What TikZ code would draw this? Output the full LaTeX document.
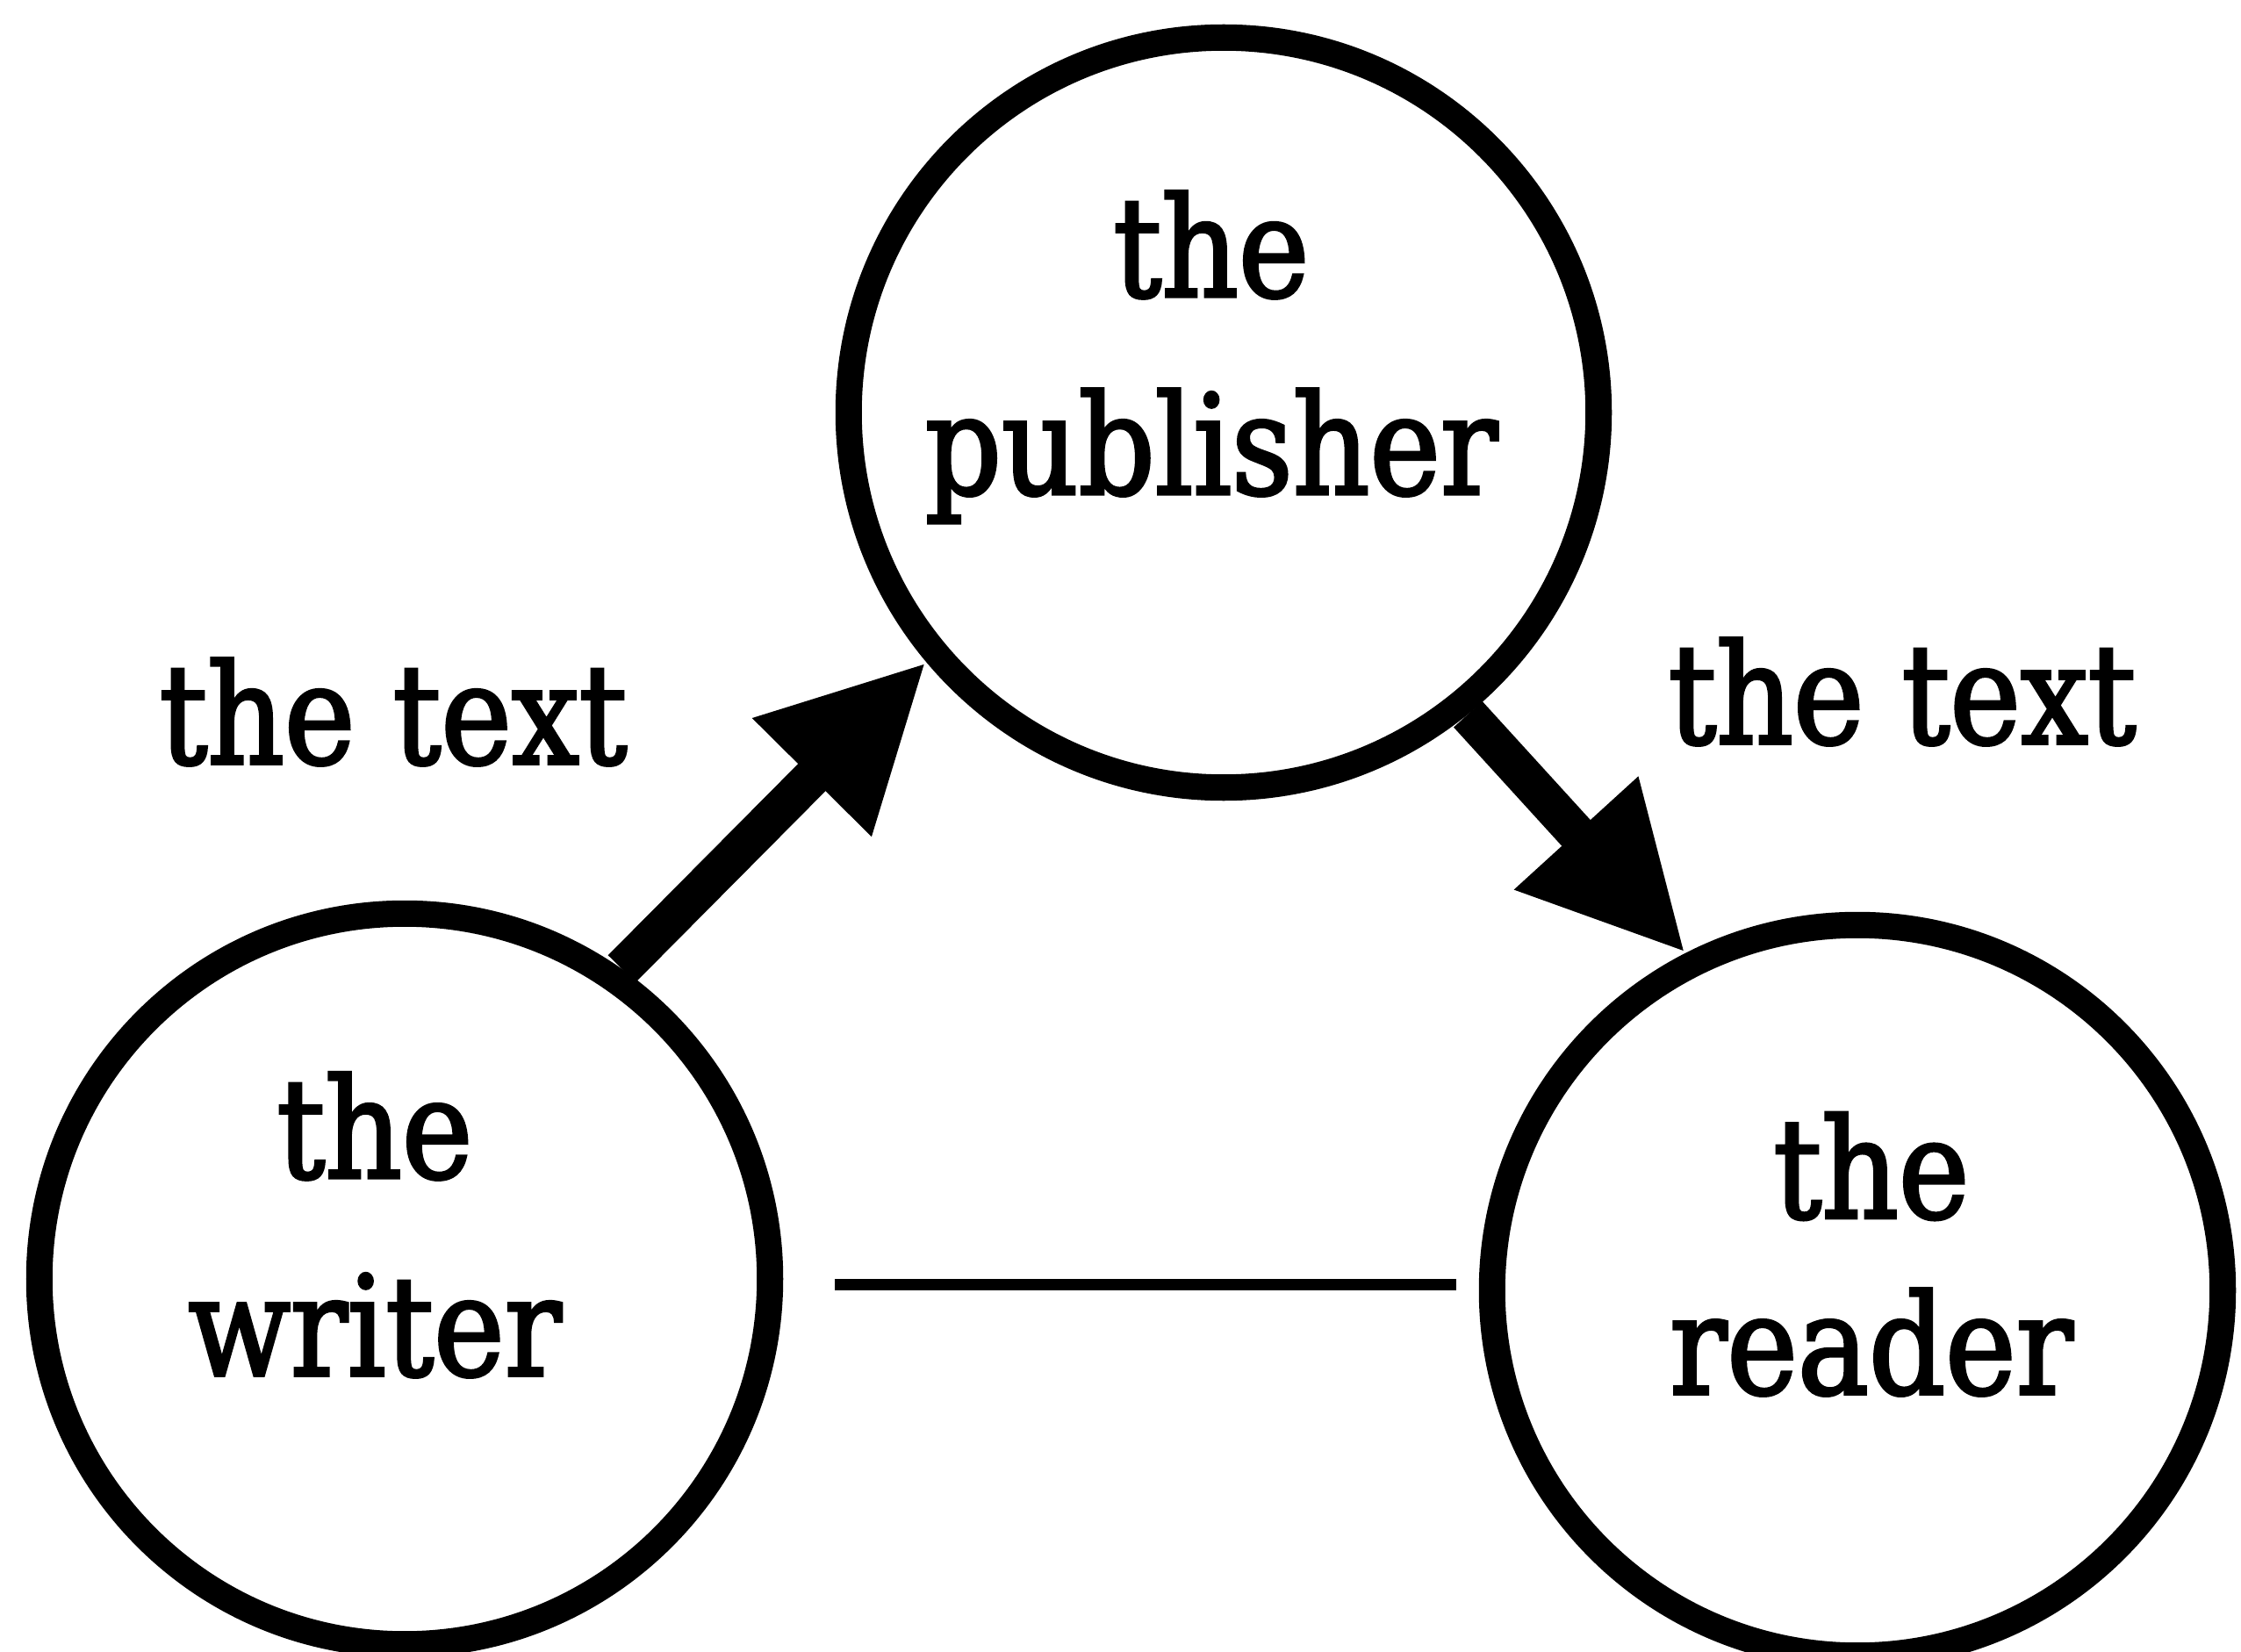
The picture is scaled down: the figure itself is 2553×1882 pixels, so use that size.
\documentclass[tikz,border=0pt]{standalone}
\usepackage{fontspec}
\newfontfamily\lblfont{DejaVu Serif}[FakeStretch=0.86,FakeBold=2.2]
\usetikzlibrary{arrows.meta}
\begin{document}
\begin{tikzpicture}[x=0.01cm,y=-0.01cm,
  party/.style={circle,draw=black,line width=0.3cm,inner sep=0pt},
  words/.style={font=\lblfont\fontsize{45}{64}\selectfont,align=center,anchor=base,inner sep=0pt},
  flow/.style={line width=0.44cm,-{Triangle[length=1.85cm,width=1.78cm]}},
  plainlink/.style={line width=0.13cm}]
\useasboundingbox (0,0) rectangle (2553,1882);
\fill[white] (0,0) rectangle (2553,1882);
% circles
\node[party,minimum size=8.54cm] (pub) at (1394,470) {};
\node[party,minimum size=8.32cm] (wri) at (461,1457) {};
\node[party,minimum size=8.32cm] (rea) at (2116,1470) {};
% texts in circles (base anchor = baseline of last line)
\node[words] (tpub) at (1380,563) {the\\publisher};
\node[words] (twri) at (427,1567) {the\\writer};
\node[words,font=\lblfont\fontsize{45}{57}\selectfont] (trea) at (2132,1588) {the\\reader};
% labels
\node[words] (lab1) at (448,870) {the text};
\node[words] (lab2) at (2167,847) {the text};
% connectors
\draw[flow] (wri.55) -- (pub.220);
\draw[flow] (pub.309) -- (rea.117.5);
\coordinate (ls) at (951,1463);
\coordinate (le) at (1659,1463);
\draw[plainlink] (ls) -- (le);
\end{tikzpicture}
\end{document}
